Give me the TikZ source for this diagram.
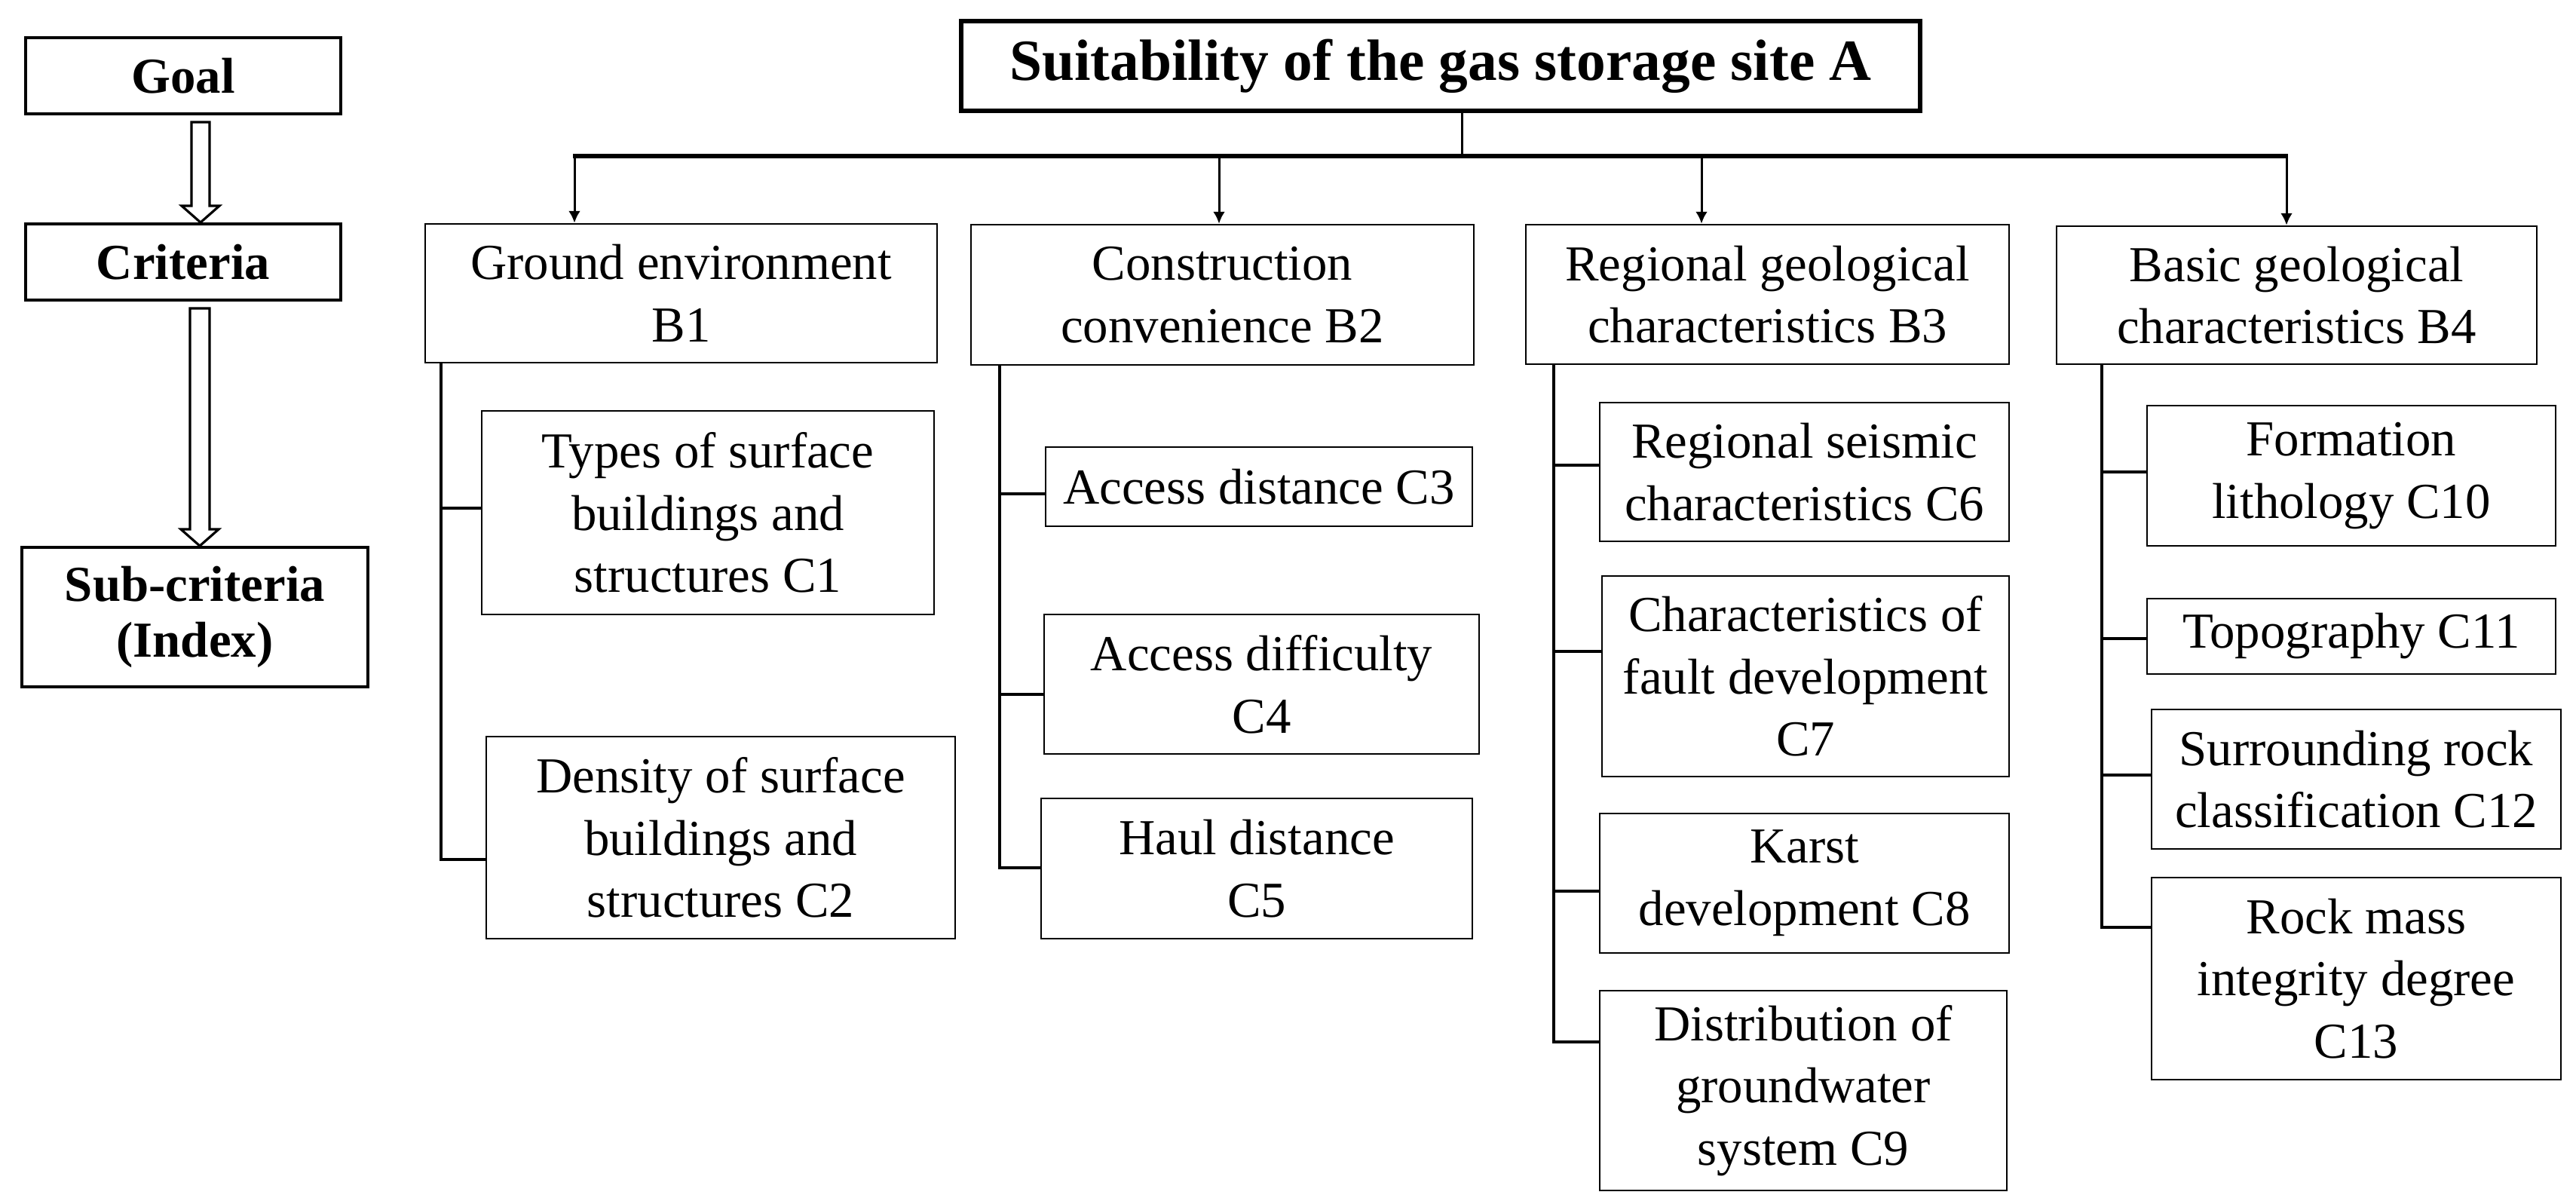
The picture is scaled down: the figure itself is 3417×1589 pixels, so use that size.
\documentclass[tikz,border=0pt]{standalone}
\usepackage{fontspec}
\setmainfont{Liberation Serif}
\usetikzlibrary{arrows.meta,calc}
\newcommand\mkbox[7]{%
  \pgfmathsetmacro\bw{(#5-#3)*0.01}%
  \pgfmathsetmacro\bh{(#6-#4)*0.01}%
  \node[#1, minimum width=\bw cm, minimum height=\bh cm] (#2) at ({(#3+#5)/2},{(#4+#6)/2}) {#7};}
\newcommand\hollowarr[5]{%
  \draw[hollow] ($(#1)+(-#3,0)$) -- ($(#2)+(-#3,-#5)$) -- ($(#2)+(-#4,-#5)$) -- (#2)
    -- ($(#2)+(#4,-#5)$) -- ($(#2)+(#3,-#5)$) -- ($(#1)+(#3,0)$) -- cycle;}
\begin{document}
\begin{tikzpicture}[x=0.01cm,y=-0.01cm,
  titlebox/.style={draw, line width=1.5pt, inner sep=0pt, align=center,
    font=\bfseries\fontsize{22}{26}\selectfont},
  lbox/.style={draw, line width=1.1pt, inner sep=0pt, align=center,
    font=\bfseries\fontsize{19}{21}\selectfont},
  nbox/.style={draw, line width=0.75pt, inner sep=0pt, align=center,
    font=\fontsize{19}{23.5}\selectfont},
  trunk/.style={line width=1.4pt},
  bus/.style={line width=1.5pt},
  stem/.style={line width=0.85pt},
  arr/.style={line width=0.85pt, -{Latex[length=4.5pt,width=4.5pt]}},
  hollow/.style={line width=0.9pt, line join=miter}]
\useasboundingbox (0,0) rectangle (3417,1589);

% left legend column
\mkbox{lbox}{goal}{34}{50}{452}{151}{Goal}
\mkbox{lbox}{crit}{34}{297}{452}{398}{Criteria}
\mkbox{lbox}{sub}{29}{726}{488}{911}{Sub-criteria\\(Index)}
\path (goal.south -| 266,0) ++(0,9) coordinate (a1top);
\path (crit.north -| 266,0) coordinate (a1tip);
\path (crit.south -| 265,0) ++(0,9) coordinate (a2top);
\path (sub.north -| 265,0) coordinate (a2tip);
\hollowarr{a1top}{a1tip}{12}{25}{22}
\hollowarr{a2top}{a2tip}{13}{25}{22}

% title
\mkbox{titlebox}{top}{1275}{28}{2547}{147}{Suitability of the gas storage site A}

% criteria
\mkbox{nbox}{b1}{564}{297}{1243}{481}{Ground environment\\B1}
\mkbox{nbox}{b2}{1288}{298}{1955}{484}{Construction\\convenience B2}
\mkbox{nbox}{b3}{2024}{298}{2665}{483}{Regional geological\\characteristics B3}
\mkbox{nbox}{b4}{2728}{300}{3365}{483}{Basic geological\\characteristics B4}

% bus
\coordinate (busL) at (762,207);
\coordinate (busR) at (3033,207);
\coordinate (busM) at (1939,207);
\draw[stem] (top.south -| busM) -- (busM);
\draw[bus] ($(busL)+(-2,0)$) -- ($(busR)+(2,0)$);
\draw[arr] (busL) -- (b1.north -| busL);
\draw[arr] (1617,207) -- (b2.north -| 1617,0);
\draw[arr] (2257,207) -- (b3.north -| 2257,0);
\draw[arr] (busR) -- (b4.north -| busR);

% sub-criteria of B1
\mkbox{nbox}{c1}{639}{545}{1239}{815}{Types of surface\\buildings and\\structures C1}
\mkbox{nbox}{c2}{645}{977}{1267}{1245}{Density of surface\\buildings and\\structures C2}
\draw[trunk] (b1.south -| 585,0) |- (c2.west |- 0,1140);
\draw[trunk] (585,674) -- (c1.west |- 0,674);

% sub-criteria of B2
\mkbox{nbox}{c3}{1387}{593}{1953}{698}{Access distance C3}
\mkbox{nbox}{c4}{1385}{815}{1962}{1000}{Access difficulty\\C4}
\mkbox{nbox}{c5}{1381}{1059}{1953}{1245}{Haul distance\\C5}
\draw[trunk] (b2.south -| 1326,0) |- (c5.west |- 0,1151);
\draw[trunk] (1326,655) -- (c3.west |- 0,655);
\draw[trunk] (1326,921) -- (c4.west |- 0,921);

% sub-criteria of B3
\mkbox{nbox}{c6}{2122}{534}{2665}{718}{Regional seismic\\characteristics C6}
\mkbox{nbox}{c7}{2125}{764}{2665}{1030}{Characteristics of\\fault development\\C7}
\mkbox{nbox}{c8}{2122}{1079}{2665}{1264}{Karst\\development C8}
\mkbox{nbox}{c9}{2122}{1314}{2662}{1579}{Distribution of\\groundwater\\system C9}
\draw[trunk] (b3.south -| 2061,0) |- (c9.west |- 0,1382);
\draw[trunk] (2061,617) -- (c6.west |- 0,617);
\draw[trunk] (2061,864) -- (c7.west |- 0,864);
\draw[trunk] (2061,1182) -- (c8.west |- 0,1182);

% sub-criteria of B4
\mkbox{nbox}{c10}{2848}{538}{3390}{724}{Formation\\lithology C10}
\mkbox{nbox}{c11}{2848}{794}{3390}{894}{Topography C11}
\mkbox{nbox}{c12}{2854}{941}{3397}{1126}{Surrounding rock\\classification C12}
\mkbox{nbox}{c13}{2854}{1164}{3397}{1432}{Rock mass\\integrity degree\\C13}
\draw[trunk] (b4.south -| 2788,0) |- (c13.west |- 0,1230);
\draw[trunk] (2788,626) -- (c10.west |- 0,626);
\draw[trunk] (2788,847) -- (c11.west |- 0,847);
\draw[trunk] (2788,1028) -- (c12.west |- 0,1028);
\end{tikzpicture}
\end{document}
